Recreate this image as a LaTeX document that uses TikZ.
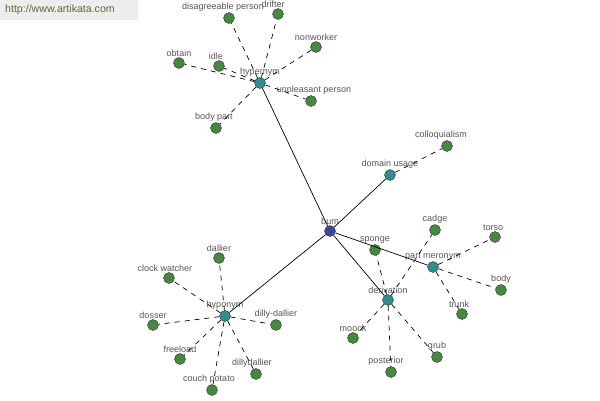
\documentclass[tikz,border=0pt]{standalone}
\usepackage{fontspec}
\setmainfont{Liberation Sans}
\definecolor{leafgreen}{HTML}{438A3F}
\definecolor{relteal}{HTML}{2F8E8E}
\definecolor{rootblue}{HTML}{3A4896}
\definecolor{labelgray}{HTML}{555555}
\definecolor{urlgreen}{HTML}{5A6B3A}
\begin{document}
\begin{tikzpicture}[
    x=1pt, y=-1pt,
    leaf/.style={circle, draw=black!80, fill=leafgreen, inner sep=0pt, minimum size=11pt, label distance=1.5pt},
    rel/.style={leaf, fill=relteal},
    root/.style={leaf, fill=rootblue},
    link/.style={line width=0.7pt},
    weak/.style={line width=0.7pt, dash pattern=on 5pt off 5pt},
    every label/.style={font=\fontsize{9}{10}\selectfont, text=labelgray, inner sep=1pt}
]
    \useasboundingbox (0,0) rectangle (600,400);
    \node[fill=black!7, anchor=north west, minimum width=138pt, minimum height=20pt,
          text width=128pt, align=left, text=urlgreen, font=\fontsize{10.6}{12}\selectfont]
          (url) at (0,0) {http://www.artikata.com};

    % centre and relation nodes
    \node[root, label={above:bum}] (bum) at (330,231) {};
    \node[rel, label={above:hypernym}] (hyper) at (260,83) {};
    \node[rel, label={above:domain usage}] (domain) at (390,175) {};
    \node[rel, label={above:part meronym}] (part) at (433,267) {};
    \node[rel, label={above:derivation}] (deriv) at (388,300) {};
    \node[rel, label={above:hyponym}] (hypo) at (225,316) {};

    % hypernym
    \node[leaf, label={[xshift=-6pt]above:disagreeable person}] (disag) at (229,18) {};
    \node[leaf, label={[xshift=-5pt]above:drifter}] (drifter) at (278,14) {};
    \node[leaf, label={above:nonworker}] (nonworker) at (316,47) {};
    \node[leaf, label={above:obtain}] (obtain) at (179,63) {};
    \node[leaf, label={[xshift=-3pt]above:idle}] (idle) at (219,66) {};
    \node[leaf, label={[xshift=3pt]above:unpleasant person}] (unpleasant) at (311,101) {};
    \node[leaf, label={[xshift=-2pt]above:body part}] (bodypart) at (216,128) {};

    % domain usage
    \node[leaf, label={[xshift=-6pt]above:colloquialism}] (colloq) at (447,146) {};

    % part meronym
    \node[leaf, label={above:cadge}] (cadge) at (435,230) {};
    \node[leaf, label={[xshift=-2pt]above:torso}] (torso) at (495,237) {};
    \node[leaf, label={above:body}] (body) at (501,290) {};
    \node[leaf, label={[xshift=-3pt]above:trunk}] (trunk) at (462,314) {};

    % derivation
    \node[leaf, label={above:sponge}] (sponge) at (375,250) {};
    \node[leaf, label={above:moock}] (moock) at (353,338) {};
    \node[leaf, label={[xshift=-5pt]above:posterior}] (posterior) at (391,372) {};
    \node[leaf, label={above:grub}] (grub) at (437,357) {};

    % hyponym
    \node[leaf, label={above:dallier}] (dallier) at (219,258) {};
    \node[leaf, label={[xshift=-4pt]above:clock watcher}] (clock) at (169,278) {};
    \node[leaf, label={above:dosser}] (dosser) at (153,325) {};
    \node[leaf, label={above:freeload}] (freeload) at (180,359) {};
    \node[leaf, label={[xshift=-3pt]above:couch potato}] (couch) at (212,390) {};
    \node[leaf, label={[xshift=-4pt]above:dillydallier}] (dillyd) at (256,374) {};
    \node[leaf, label={above:dilly-dallier}] (dillyh) at (276,325) {};

    \draw[link] (bum) -- (hyper);
    \draw[link] (bum) -- (domain);
    \draw[link] (bum) -- (part);
    \draw[link] (bum) -- (deriv);
    \draw[link] (bum) -- (hypo);

    \foreach \n in {disag, drifter, nonworker, obtain, idle, unpleasant, bodypart}
        \draw[weak] (hyper) -- (\n);
    \draw[weak] (domain) -- (colloq);
    \foreach \n in {torso, body, trunk}
        \draw[weak] (part) -- (\n);
    \foreach \n in {sponge, cadge, moock, posterior, grub}
        \draw[weak] (deriv) -- (\n);
    \foreach \n in {dallier, clock, dosser, freeload, couch, dillyd, dillyh}
        \draw[weak] (hypo) -- (\n);
\end{tikzpicture}
\end{document}
